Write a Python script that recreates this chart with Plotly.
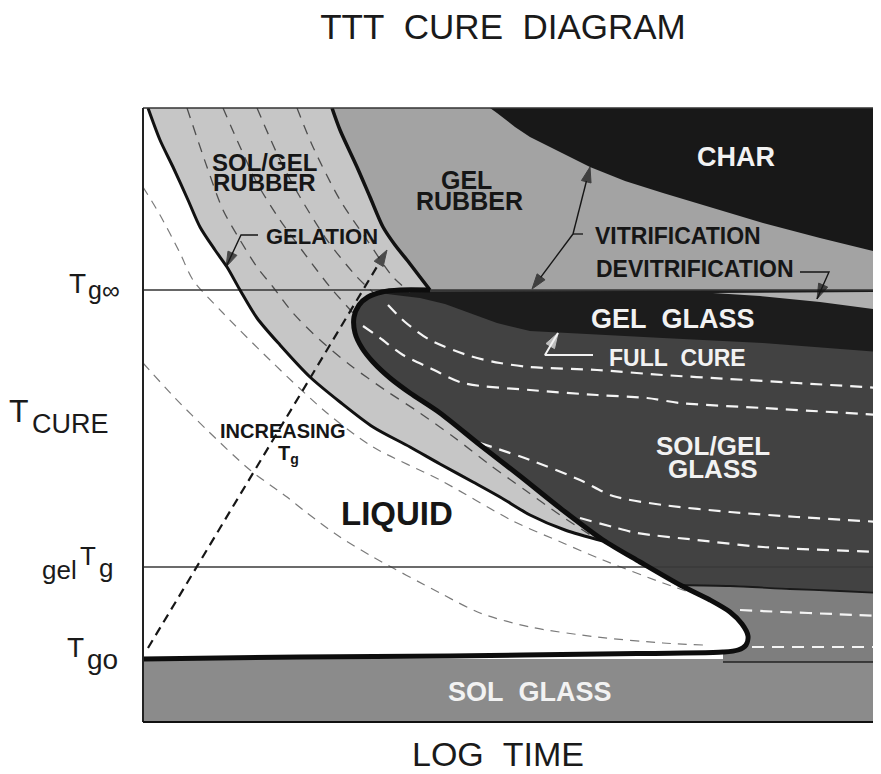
import plotly.graph_objects as go

# ---- Diagram coordinates (log time on x, cure temperature on y) ----
# Thick boundary: liquid / sol-gel rubber
gel_a_x = [148, 160, 173, 188, 200, 215, 227, 240, 257, 280, 310, 340, 373, 410, 440, 473, 500, 530, 565, 603]
gel_a_y = [108, 140, 167, 200, 227, 250, 267, 290, 318, 345, 377, 402, 427, 447, 464, 482, 497, 515, 530, 541]
# Thick boundary: sol-gel rubber / gel rubber
gel_b_x = [332, 340, 357, 370, 383, 395, 407, 420, 430]
gel_b_y = [108, 130, 167, 197, 227, 245, 260, 277, 290]
# Vitrification S-curve
vit_x = [430, 400, 382, 368, 359, 354, 355, 362, 373, 390, 410, 440, 480, 520, 560, 603, 640, 680, 710, 730, 742, 748, 746, 738, 723, 600, 450, 300, 143]
vit_y = [290, 290, 292, 297, 305, 317, 333, 348, 362, 378, 393, 413, 445, 476, 508, 540, 562, 585, 600, 612, 624, 636, 645, 650, 652, 654, 656, 657, 659]
# Char boundary
char_x = [490, 497, 515, 530, 560, 590, 625, 663, 713, 763, 820, 881]
char_y = [108, 113, 127, 137, 152, 167, 181, 193, 208, 223, 238, 253]
# Gel glass (closed region)
gg_x = [372, 881, 881, 763, 663, 563, 530, 497, 470, 445, 420, 395]
gg_y = [292, 290, 352, 343, 338, 333, 331, 323, 313, 304, 298, 295]
# Devitrification strip
dv_x = [713, 760, 820, 881, 881]
dv_y = [293, 296, 302, 310, 292]
# Lower band line right of the vitrification curve
band_x = [680, 730, 790, 840, 881]
band_y = [585, 586, 589, 591, 593]

# Iso-conversion contours (liquid region)
d1_x = [143, 160, 180, 193, 223, 273, 327, 373, 440, 513, 563, 603, 663, 707]
d1_y = [187, 215, 253, 280, 313, 363, 413, 447, 480, 521, 543, 560, 583, 598]
d2_x = [143, 175, 207, 250, 287, 307, 340, 373, 440, 480, 530, 597, 663, 703]
d2_y = [363, 398, 430, 470, 497, 513, 537, 557, 593, 613, 627, 637, 643, 645]
# Iso-conversion contours (rubber region)
r1_x = [187, 207, 223, 240, 257, 273, 293, 320, 350, 385, 420, 455, 490, 525, 560, 595]
r1_y = [108, 167, 210, 240, 267, 287, 313, 340, 365, 390, 413, 438, 465, 490, 515, 538]
r2_x = [223, 237, 257, 280, 307, 330, 353]
r2_y = [108, 140, 183, 220, 257, 287, 313]
r3_x = [257, 280, 300, 327, 357, 375]
r3_y = [108, 160, 197, 240, 277, 294]
r4_x = [297, 313, 340, 367, 393, 410]
r4_y = [108, 147, 200, 240, 277, 292]
# Iso-conversion contours (glass region, white)
w1_x = [388, 405, 430, 470, 500, 530, 597, 663, 730, 797, 881]
w1_y = [305, 322, 340, 356, 363, 367, 370, 375, 379, 383, 388]
w2_x = [363, 380, 403, 430, 463, 530, 597, 647, 680, 763, 881]
w2_y = [326, 338, 355, 368, 383, 390, 395, 398, 403, 408, 415]
w3_x = [480, 530, 580, 613, 663, 730, 797, 881]
w3_y = [443, 460, 480, 496, 505, 512, 517, 522]
w4_x = [580, 613, 637, 697, 763, 881]
w4_y = [518, 527, 533, 540, 547, 552]
w5_x = [740, 783, 833, 881]
w5_y = [610, 612, 614, 616]
w6_x = [752, 881]
w6_y = [647, 647]
# Increasing Tg arrow
inc_x = [148, 387]
inc_y = [648, 250]

# Reference temperatures
tg_inf = 290
gel_tg = 567
tg0 = 659
tg0_right = 662
x_min, x_max = 143, 881
y_bottom, y_top = 722, 108

FONT = "Liberation Sans, Arial, sans-serif"
DARK = "#161616"
WHITE = "#f2f2f2"

fig = go.Figure()


def px(x):
    return (x - x_min) / (x_max - x_min)


def py(y):
    return (y_bottom - y) / (y_bottom - y_top)


def poly(xs, ys, color):
    fig.add_trace(go.Scatter(x=xs, y=ys, mode="lines", fill="toself", fillcolor=color,
                             line=dict(width=0, color=color), hoverinfo="skip", showlegend=False))


def line(xs, ys, color, width, dash="solid", shape="spline"):
    fig.add_trace(go.Scatter(x=xs, y=ys, mode="lines",
                             line=dict(color=color, width=width, dash=dash, shape=shape, smoothing=0.8),
                             hoverinfo="skip", showlegend=False))


def arrow(xs, ys, color, width=1.4, dash="solid", head=16):
    sizes = [0] * (len(xs) - 1) + [head]
    fig.add_trace(go.Scatter(x=xs, y=ys, mode="lines+markers",
                             line=dict(color=color, width=width, dash=dash),
                             marker=dict(symbol="arrow", size=sizes, color=color, angleref="previous",
                                         line=dict(width=1, color=color)),
                             hoverinfo="skip", showlegend=False))


# ---- filled regions ----
j = vit_x.index(603)
# sol glass band
poly([x_min, x_max, x_max, x_min], [tg0, tg0, y_bottom, y_bottom], "#8b8b8b")
# sol/gel rubber
poly(gel_a_x + vit_x[j::-1] + gel_b_x[::-1], gel_a_y + vit_y[j::-1] + gel_b_y[::-1], "#c6c6c6")
# gel rubber
poly(gel_b_x + [x_max, x_max], gel_b_y + [tg_inf, y_top], "#a3a3a3")
# char
poly(char_x + [x_max], char_y + [y_top], "#181818")
# glass (base, lower band)
t = vit_x.index(723)
poly(vit_x[:t + 1] + [723, x_max, x_max], vit_y[:t + 1] + [tg0_right, tg0_right, tg_inf], "#7e7e7e")
# sol/gel glass (dark)
k = vit_x.index(680)
poly(vit_x[:k + 1] + band_x + [x_max], vit_y[:k + 1] + band_y + [tg_inf], "#424242")
# gel glass
poly(gg_x, gg_y, "#1c1c1c")
# devitrification strip
poly(dv_x, dv_y, "#b0b0b0")

# ---- dashed contours ----
for xs, ys in [(d1_x, d1_y), (d2_x, d2_y)]:
    line(xs, ys, "#7a7a7a", 1.2, "9px,7px")
for xs, ys in [(r1_x, r1_y), (r2_x, r2_y), (r3_x, r3_y), (r4_x, r4_y)]:
    line(xs, ys, "#4e4e4e", 1.3, "10px,8px")
for xs, ys in [(w1_x, w1_y), (w2_x, w2_y), (w3_x, w3_y), (w4_x, w4_y), (w5_x, w5_y), (w6_x, w6_y)]:
    line(xs, ys, "#f4f4f4", 2.2, "12px,8px")

# ---- reference lines ----
line([x_min, x_max], [tg_inf, tg_inf], "#333333", 1.3, shape="linear")
line([x_min, x_max], [gel_tg, gel_tg], "#3a3a3a", 1.3, shape="linear")
line([723, x_max], [tg0_right, tg0_right], "#222222", 1.5, shape="linear")
line(band_x, band_y, "#1a1a1a", 1.8)

# ---- increasing Tg dashed arrow ----
arrow(inc_x, inc_y, DARK, 2.2, "9px,6px", head=17)

# ---- thick boundaries ----
line(gel_a_x, gel_a_y, "#111111", 3)
line(gel_b_x, gel_b_y, "#111111", 3.5)
line(vit_x, vit_y, "#0d0d0d", 5)

# ---- leader lines with arrowheads ----
arrow([258, 241, 226], [235, 235, 267], DARK)          # gelation
line([583, 573], [234, 234], DARK, 1.3, shape="linear")
arrow([573, 590], [234, 167], DARK)                    # vitrification (up)
arrow([573, 532], [234, 289], DARK)                    # vitrification (down)
arrow([800, 829, 817], [272, 272, 299], DARK)          # devitrification
arrow([593, 545, 558], [355, 355, 333], WHITE, 2)      # full cure

# ---- region labels ----
labels = [
    ("SOL/GEL", 264, 162, 24, DARK),
    ("RUBBER", 264, 182, 24, DARK),
    ("GEL", 466, 180, 25, DARK),
    ("RUBBER", 469, 201, 25, DARK),
    ("CHAR", 736, 157, 27, WHITE),
    ("GELATION", 322, 236, 22, DARK),
    ("VITRIFICATION", 678, 236, 23, DARK),
    ("DEVITRIFICATION", 695, 269, 23, DARK),
    ("GEL\u00a0\u00a0GLASS", 673, 319, 27, WHITE),
    ("FULL\u00a0\u00a0CURE", 677, 358, 23, WHITE),
    ("SOL/GEL", 713, 446, 26, WHITE),
    ("GLASS", 713, 469, 26, WHITE),
    ("LIQUID", 397, 513, 33, DARK),
    ("INCREASING", 283, 431, 20, DARK),
    ("T<sub>g</sub>", 288, 454, 20, DARK),
    ("SOL\u00a0\u00a0GLASS", 530, 692, 27, WHITE),
]
for txt, x, y, size, col in labels:
    fig.add_annotation(x=x, y=y, xref="x", yref="y", text="<b>" + txt + "</b>", showarrow=False,
                       xanchor="center", yanchor="middle",
                       font=dict(family=FONT, size=size, color=col))

# ---- axis labels (outside the plotting area, placed in paper units) ----
outside = [
    ("T", 88, 283, 28, "right"),
    ("g\u221e", 86, 290, 25, "left"),
    ("T", 19, 411, 32, "center"),
    ("CURE", 70, 424, 27, "center"),
    ("gel", 79, 570, 26, "right"),
    ("T", 88, 556, 26, "center"),
    ("g", 97, 568, 26, "left"),
    ("T", 86, 647, 28, "right"),
    ("go", 85, 659, 28, "left"),
    ("LOG\u00a0\u00a0TIME", 498, 754, 34, "center"),
]
for txt, x, y, size, anchor in outside:
    fig.add_annotation(x=px(x), y=py(y), xref="paper", yref="paper", text=txt, showarrow=False,
                       xanchor=anchor, yanchor="middle",
                       font=dict(family=FONT, size=size, color="#1a1a1a"))

# ---- frame ----
fig.add_shape(type="line", xref="paper", yref="paper", x0=0, x1=1, y0=1, y1=1,
              line=dict(color="#333333", width=1.5))
fig.add_shape(type="line", xref="paper", yref="paper", x0=0, x1=0, y0=0, y1=1,
              line=dict(color="#222222", width=2))
fig.add_shape(type="line", xref="paper", yref="paper", x0=0, x1=1, y0=0, y1=0,
              line=dict(color="#111111", width=2))

# page body has an 8 px margin, so the figure is 8 px smaller than the window
W, H = 873, 766
fig.update_layout(
    width=W, height=H,
    margin=dict(l=135, r=0, t=100, b=52),
    paper_bgcolor="white", plot_bgcolor="white",
    title=dict(text="TTT\u00a0\u00a0CURE\u00a0\u00a0DIAGRAM", x=(503 - 8) / W, xanchor="center",
               y=1 - (27 - 8) / H, yanchor="middle",
               font=dict(family=FONT, size=35, color="#1a1a1a")),
    xaxis=dict(range=[x_min, x_max], visible=False, fixedrange=True),
    yaxis=dict(range=[y_bottom, y_top], visible=False, fixedrange=True),
    showlegend=False,
)

fig.write_html("out.html")
